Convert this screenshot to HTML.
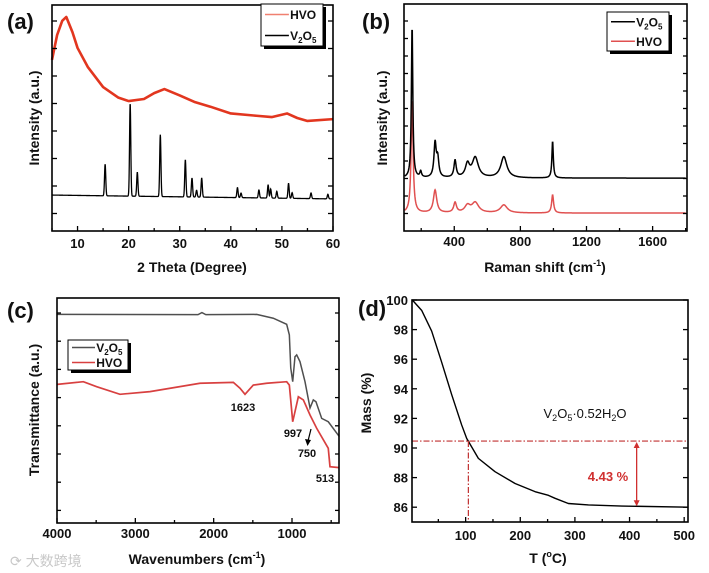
<!DOCTYPE html>
<html><head><meta charset="utf-8">
<style>
html,body{margin:0;padding:0;background:#fff;}
svg{display:block;font-family:"Liberation Sans",Arial,sans-serif;}
.t{font-weight:bold;fill:#111;}
</style></head>
<body>
<svg id="fig" width="709" height="573" viewBox="0 0 709 573" xmlns="http://www.w3.org/2000/svg">
<rect width="709" height="573" fill="#fff"/>
<g id="gA"></g>
<g id="gB"></g>
<g id="gC"></g>
<g id="gD"></g>
<text x="10" y="566" font-size="14" fill="#c8c8c8" font-family="Liberation Sans, Noto Sans CJK SC, sans-serif">⟳ 大数跨境</text>
</svg>
<script>
// ---------- Panel (a) XRD data ----------
const xrdHvoTheta = [5,6,7,7.8,9,10,12,15,18,20,23,25,27,30,33,36,40,45,48,51,53,55,60];
const xrdHvoInt   = [75.7,86.7,93,94.7,88,81,72.6,63.7,59,57.5,58.4,61,62.8,60,57,55,52,51,50.4,52,50,48.7,49.5];
const xrdBaseStart = 15.9, xrdBaseEnd = 14.2;
const xrdPeakPos = [15.4,20.3,21.7,26.2,31.1,32.4,33.3,34.3,41.3,42,45.5,47.3,47.8,49,51.3,52,55.7,59];
const xrdPeakHt  = [14,41,10.6,27.4,16.4,8.4,3,8.4,4.4,2,3.5,5.8,4,3,6.6,2.5,2.5,2];
const xrdTicks = [10,20,30,40,50,60];
// ---------- Panel (b) Raman data ----------
const ramV2O5Base = 23.3;
const ramV2O5Pos = [145,197,284,300,405,480,527,700,995];
const ramV2O5Ht  = [67.4,2.6,15,8,7.5,5.7,8.8,9.3,16.3];
const ramV2O5W   = [5,6,8,8,8,15,22,22,5];
const ramHvoBase = 7.9;
const ramHvoPos = [145,284,405,480,527,700,995];
const ramHvoHt  = [49.8,10,4.4,3,4.4,3.5,8];
const ramHvoW   = [7,12,10,20,25,25,7];
const ramTicks = [400,800,1200,1600];
// ---------- Panel (c) FTIR data ----------
const ftV2O5Wn = [4000,2200,2150,2100,1451,1239,1068,1034,1016,991,962,940,898,834,770,728,694,621,537,396];
const ftV2O5T  = [92.7,92.6,93.5,92.6,92.7,91,88.3,83.6,68.9,62.8,73.9,74.7,71.7,62.8,51.1,54.7,53.9,46.5,45,38.4];
const ftHvoWn = [3996,3664,3494,3196,2813,2174,1749,1664,1600,1494,1323,1068,1034,991,919,855,770,685,537,515,396];
const ftHvoT  = [61.6,62.8,60.6,57.2,58.4,62.1,62.5,59.9,57.2,61.3,62.1,62.8,61.3,45,56.1,54.7,48,42.1,33.2,25,24.6];
const ftTicks = [4000,3000,2000,1000];
// ---------- Panel (d) TGA data ----------
const tgaT    = [2.4,19.5,37.8,56.1,74.5,92.8,101.9,123.3,153.8,190.5,227,251.5,263.7,288,324.7,386,508];
const tgaMass = [100,99.3,97.9,95.8,93.6,91.55,90.65,89.3,88.4,87.6,87.05,86.8,86.6,86.25,86.15,86.08,86];
const tgaXTicks = [100,200,300,400,500];
const tgaYTicks = [86,88,90,92,94,96,98,100];
const tgaRefMass = 90.47, tgaRefT = 105, tgaArrowT = 413, tgaEndMass = 86;

const NS='http://www.w3.org/2000/svg';
function mk(parent,tag,attrs,text){const e=document.createElementNS(NS,tag);for(const k in attrs)e.setAttribute(k,attrs[k]);if(text!==undefined)e.textContent=text;parent.appendChild(e);return e;}
function lin(d0,d1,r0,r1){return v=>r0+(v-d0)*(r1-r0)/(d1-d0);}
function pathD(xs,ys,sx,sy){return xs.map((x,i)=>(i?'L':'M')+sx(x).toFixed(2)+','+sy(ys[i]).toFixed(2)).join('');}
function box(g,x0,y0,x1,y1){const r=mk(g,'rect',{x:x0,y:y0,width:x1-x0,height:y1-y0,fill:'none',stroke:'#000','stroke-width':1.6});

}
function legend(g,x,y,w,h,items){
 const lg=mk(g,'g',{});
 
 
 mk(lg,'rect',{x:x+3,y:y+3,width:w,height:h,fill:'#000'});
 mk(lg,'rect',{x:x,y:y,width:w,height:h,fill:'#fff',stroke:'#000','stroke-width':1});
 items.forEach((it,i)=>{const cy=y+h*(i+0.5)/items.length;
  const en=mk(lg,'g',{});
  
  
  mk(en,'line',{x1:x+4,x2:x+w*0.45,y1:cy,y2:cy,stroke:it.c,'stroke-width':it.sw||1.5});
  const t=mk(en,'text',{x:x+w*0.47,y:cy+4.5,'font-size':12,class:'t'});
  t.innerHTML=it.l;});
}
function gauss(x,p,h,w){return h*Math.exp(-((x-p)*(x-p))/(2*w*w));}
function lor(x,p,h,w){return h/(1+((x-p)/w)*((x-p)/w));}

// ===== Panel A =====
(function(){
 const g=document.getElementById('gA');
 const X0=52,X1=333,Y0=5,Y1=231;
 const sx=lin(5,60,X0,X1), sy=lin(0,100,Y1,Y0);
 const p=mk(g,'path',{d:pathD(xrdHvoTheta,xrdHvoInt,sx,sy),fill:'none',stroke:'#e2361f','stroke-width':2.6,'stroke-linejoin':'round'});
 
 
 const xs=[],ys=[];
 for(let t=5;t<=60.0001;t+=0.04){let v=xrdBaseStart+(xrdBaseEnd-xrdBaseStart)*(t-5)/55;
  xrdPeakPos.forEach((pp,i)=>{v+=gauss(t,pp,xrdPeakHt[i],0.12);});xs.push(t);ys.push(v);}
 const q=mk(g,'path',{d:pathD(xs,ys,sx,sy),fill:'none',stroke:'#000','stroke-width':1.3});
 
 
 box(g,X0,Y0,X1,Y1);
 for(let t=5;t<=60;t+=5){const x=sx(t),L=(t%10===0)?5:3;mk(g,'line',{x1:x,x2:x,y1:Y1,y2:Y1-L,stroke:'#000','stroke-width':1.3});}
 xrdTicks.forEach(t=>{const e=mk(g,'text',{x:sx(t),y:248,'text-anchor':'middle','font-size':13,class:'t'},String(t));
  
  });
 for(let y=21;y<231;y+=27.5){mk(g,'line',{x1:X0,x2:X0+5,y1:y,y2:y,stroke:'#000','stroke-width':1.3});mk(g,'line',{x1:X1,x2:X1-5,y1:y,y2:y,stroke:'#000','stroke-width':1.3});}
 const xt=mk(g,'text',{x:192,y:272,'text-anchor':'middle','font-size':14,class:'t'},'2 Theta (Degree)');
 
 
 const yt=mk(g,'text',{x:0,y:0,transform:'translate(39,118) rotate(-90)','text-anchor':'middle','font-size':14,class:'t'},'Intensity (a.u.)');
 
 
 const lb=mk(g,'text',{x:7,y:29,'font-size':22,class:'t'},'(a)');
 
 
 legend(g,261,4,62,42,[{c:'#f08070',l:'HVO'},{c:'#000',l:'V<tspan font-size="8" dy="3">2</tspan><tspan dy="-3">O</tspan><tspan font-size="8" dy="3">5</tspan>'}]);
})();

// ===== Panel B =====
(function(){
 const g=document.getElementById('gB');
 const X0=404,X1=687,Y0=4,Y1=231;
 const sx=lin(96,1808,X0,X1), sy=lin(0,100,Y1,Y0);
 function series(base,pos,ht,w){const xs=[],ys=[];for(let r=100;r<=1800;r+=2){let v=base;pos.forEach((p,i)=>{v+=lor(r,p,ht[i],w[i]);});xs.push(r);ys.push(v);}return [xs,ys];}
 const [hx,hy]=series(ramHvoBase,ramHvoPos,ramHvoHt,ramHvoW);
 const ph=mk(g,'path',{d:pathD(hx,hy,sx,sy),fill:'none',stroke:'#e05050','stroke-width':1.5});
 
 
 const [vx,vy]=series(ramV2O5Base,ramV2O5Pos,ramV2O5Ht,ramV2O5W);
 const pv=mk(g,'path',{d:pathD(vx,vy,sx,sy),fill:'none',stroke:'#000','stroke-width':1.5});
 
 
 box(g,X0,Y0,X1,Y1);
 for(let r=200;r<=1800;r+=200){const x=sx(r),L=(r%400===0)?5:3;mk(g,'line',{x1:x,x2:x,y1:Y1,y2:Y1-L,stroke:'#000','stroke-width':1.3});}
 ramTicks.forEach(t=>{const e=mk(g,'text',{x:sx(t),y:246,'text-anchor':'middle','font-size':13,class:'t'},String(t));
  
  });
 for(let y=21;y<231;y+=17.5){mk(g,'line',{x1:X0,x2:X0+4,y1:y,y2:y,stroke:'#000','stroke-width':1.3});mk(g,'line',{x1:X1,x2:X1-4,y1:y,y2:y,stroke:'#000','stroke-width':1.3});}
 const xt=mk(g,'text',{x:545,y:272,'text-anchor':'middle','font-size':14,class:'t'});
 xt.innerHTML='Raman shift (cm<tspan font-size="9" dy="-6">-1</tspan><tspan dy="6">)</tspan>';
 
 
 const yt=mk(g,'text',{x:0,y:0,transform:'translate(387,118) rotate(-90)','text-anchor':'middle','font-size':14,class:'t'},'Intensity (a.u.)');
 
 
 const lb=mk(g,'text',{x:362,y:29,'font-size':22,class:'t'},'(b)');
 
 
 legend(g,607,12,62,39,[{c:'#000',l:'V<tspan font-size="8" dy="3">2</tspan><tspan dy="-3">O</tspan><tspan font-size="8" dy="3">5</tspan>'},{c:'#e05050',l:'HVO'}]);
})();

// ===== Panel C =====
(function(){
 const g=document.getElementById('gC');
 const X0=57,X1=339,Y0=298,Y1=523;
 const sx=lin(4000,400,X0,X1), sy=lin(0,100,Y1,Y0);
 const pv=mk(g,'path',{d:pathD(ftV2O5Wn,ftV2O5T,sx,sy),fill:'none',stroke:'#4f4f4f','stroke-width':1.5});
 
 
 const ph=mk(g,'path',{d:pathD(ftHvoWn,ftHvoT,sx,sy),fill:'none',stroke:'#d84040','stroke-width':1.7});
 
 
 box(g,X0,Y0,X1,Y1);
 for(let w=4000;w>=500;w-=500){const x=sx(w),L=(w%1000===0)?5:3;mk(g,'line',{x1:x,x2:x,y1:Y1,y2:Y1-L,stroke:'#000','stroke-width':1.3});}
 ftTicks.forEach(t=>{const e=mk(g,'text',{x:sx(t),y:538,'text-anchor':'middle','font-size':13,class:'t'},String(t));
  
  });
 for(let y=313;y<523;y+=28.2){mk(g,'line',{x1:X0,x2:X0+4,y1:y,y2:y,stroke:'#000','stroke-width':1.3});mk(g,'line',{x1:X1,x2:X1-4,y1:y,y2:y,stroke:'#000','stroke-width':1.3});}
 const xt=mk(g,'text',{x:197,y:564,'text-anchor':'middle','font-size':14,class:'t'});
 xt.innerHTML='Wavenumbers (cm<tspan font-size="9" dy="-6">-1</tspan><tspan dy="6">)</tspan>';
 
 
 const yt=mk(g,'text',{x:0,y:0,transform:'translate(39,410) rotate(-90)','text-anchor':'middle','font-size':14,class:'t'},'Transmittance (a.u.)');
 
 
 const lb=mk(g,'text',{x:7,y:318,'font-size':22,class:'t'},'(c)');
 
 
 legend(g,68,340,60,30,[{c:'#4f4f4f',l:'V<tspan font-size="8" dy="3">2</tspan><tspan dy="-3">O</tspan><tspan font-size="8" dy="3">5</tspan>'},{c:'#d84040',l:'HVO'}]);
 [['1623',243,411],['997',293,437],['750',307,457],['513',325,482]].forEach(a=>{const e=mk(g,'text',{x:a[1],y:a[2],'text-anchor':'middle','font-size':11,class:'t'},a[0]);
  
  });
 mk(g,'line',{x1:311,y1:429,x2:308,y2:441,stroke:'#000','stroke-width':1.2});
 mk(g,'path',{d:'M305,439 L307.5,446 L311,440 Z',fill:'#000'});
})();

// ===== Panel D =====
(function(){
 const g=document.getElementById('gD');
 const X0=412,X1=688,Y0=300,Y1=522;
 const sx=lin(0,507,411,688), sy=lin(85,100,Y1,Y0);
 const pc=mk(g,'path',{d:pathD(tgaT,tgaMass,sx,sy),fill:'none',stroke:'#000','stroke-width':1.4,'stroke-linejoin':'round'});
 
 
 const hy=sy(tgaRefMass), vx=sx(tgaRefT), ax=sx(tgaArrowT), ay=sy(tgaEndMass);
 const h=mk(g,'line',{x1:X0,x2:X1,y1:hy,y2:hy,stroke:'#c03030','stroke-width':1.2,'stroke-dasharray':'6,2,1.5,2'});
 
 
 mk(g,'line',{x1:vx,x2:vx,y1:hy,y2:Y1,stroke:'#c03030','stroke-width':1.2,'stroke-dasharray':'6,2,1.5,2'});
 const ar=mk(g,'g',{});
 
 
 mk(ar,'line',{x1:ax,x2:ax,y1:hy+4,y2:ay-4,stroke:'#d03030','stroke-width':1.3});
 mk(ar,'path',{d:`M${ax-3},${hy+7} L${ax},${hy+1} L${ax+3},${hy+7} Z`,fill:'#d03030'});
 mk(ar,'path',{d:`M${ax-3},${ay-7} L${ax},${ay-1} L${ax+3},${ay-7} Z`,fill:'#d03030'});
 const lt=mk(g,'text',{x:608,y:481,'text-anchor':'middle','font-size':13,'font-weight':'bold',fill:'#d03030'},'4.43 %');
 
 
 const fm=mk(g,'text',{x:585,y:418,'text-anchor':'middle','font-size':13,fill:'#111'});
 fm.innerHTML='V<tspan font-size="9" dy="3">2</tspan><tspan dy="-3">O</tspan><tspan font-size="9" dy="3">5</tspan><tspan dy="-3">·0.52H</tspan><tspan font-size="9" dy="3">2</tspan><tspan dy="-3">O</tspan>';
 
 
 box(g,X0,Y0,X1,Y1);
 tgaXTicks.forEach(t=>{const x=sx(t);mk(g,'line',{x1:x,x2:x,y1:Y1,y2:Y1-5,stroke:'#000','stroke-width':1.3});
  mk(g,'line',{x1:x-27.3,x2:x-27.3,y1:Y1,y2:Y1-3,stroke:'#000','stroke-width':1.3});
  const e=mk(g,'text',{x:x,y:540,'text-anchor':'middle','font-size':13,class:'t'},String(t));
  
  });
 tgaYTicks.forEach(t=>{const y=sy(t);mk(g,'line',{x1:X0,x2:X0+5,y1:y,y2:y,stroke:'#000','stroke-width':1.3});mk(g,'line',{x1:X1,x2:X1-5,y1:y,y2:y,stroke:'#000','stroke-width':1.3});
  const e=mk(g,'text',{x:408,y:y+5,'text-anchor':'end','font-size':13,class:'t'},String(t));
  
  });
 const xt=mk(g,'text',{x:548,y:563,'text-anchor':'middle','font-size':14,class:'t'});
 xt.innerHTML='T (<tspan font-size="9" dy="-6">o</tspan><tspan dy="6">C)</tspan>';
 
 
 const yt=mk(g,'text',{x:0,y:0,transform:'translate(371,403) rotate(-90)','text-anchor':'middle','font-size':14,class:'t'},'Mass (%)');
 
 
 const lb=mk(g,'text',{x:358,y:316,'font-size':22,class:'t'},'(d)');
 
 
})();
</script>
</body></html>
